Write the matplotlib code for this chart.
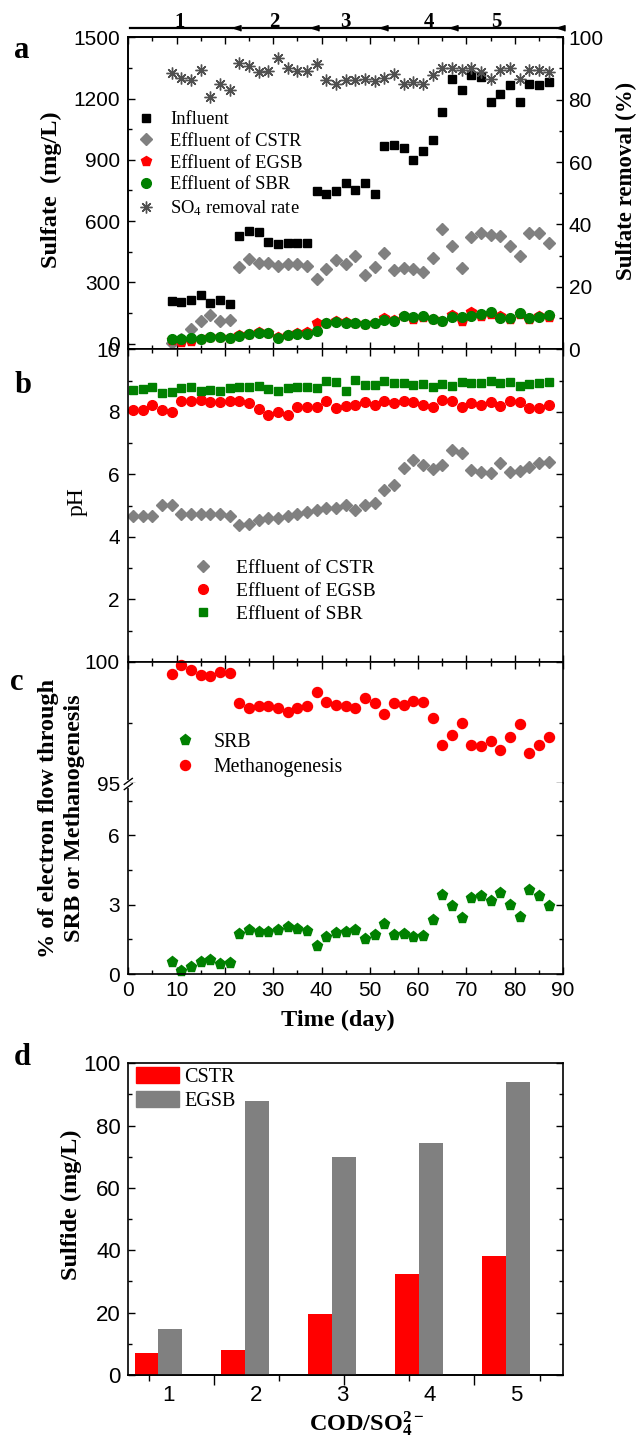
import matplotlib
matplotlib.use('Agg')
import matplotlib.pyplot as plt
from matplotlib.ticker import MultipleLocator, FixedLocator
from matplotlib.lines import Line2D
from matplotlib.patches import Patch

# ---------------- data ----------------
days_a = [9, 11, 13, 15, 17, 19, 21, 23, 25, 27, 29, 31, 33, 35, 37, 39, 41, 43, 45, 47,
          49, 51, 53, 55, 57, 59, 61, 63, 65, 67, 69, 71, 73, 75, 77, 79, 81, 83, 85, 87]
influent = [210, 205, 215, 240, 200, 215, 195, 525, 550, 548, 497, 486, 494, 494, 494,
            747, 735, 747, 787, 750, 787, 735, 966, 971, 958, 901, 942, 996,
            1134, 1297, 1240, 1315, 1305, 1183, 1222, 1268, 1183, 1272, 1268, 1279]
cstr_so4 = [5, 20, 70, 111, 138, 111, 116, 374, 412, 394, 394, 379, 391, 391, 379,
            317, 366, 407, 391, 428, 337, 374, 445, 358, 371, 363, 353, 419,
            559, 476, 370, 522, 541, 530, 525, 476, 428, 541, 541, 492]
egsb_so4 = [18, 10, 13, 21, 32, 32, 29, 41, 49, 57, 54, 32, 44, 54, 57, 99, 103, 111, 106, 99,
            98, 99, 124, 116, 137, 121, 129, 118, 113, 141, 113, 154, 134, 145, 134, 121,
            145, 121, 134, 129]
sbr_so4 = [24, 24, 26, 24, 34, 32, 29, 37, 45, 54, 50, 29, 44, 49, 49, 62, 99, 106, 103, 99,
           98, 99, 116, 111, 137, 129, 137, 118, 113, 129, 129, 137, 145, 157, 124, 124,
           150, 124, 129, 141]
removal = [88.7, 87.1, 86.2, 89.4, 80.8, 84.9, 83.0, 91.8, 90.8, 88.9, 89.2, 93.5, 90.2,
           89.2, 89.2, 91.4, 86.2, 84.9, 86.2, 86.2, 86.7, 86.0, 87.1, 88.1, 84.9, 85.6,
           84.9, 87.8, 90.0, 90.0, 89.4, 90.0, 88.9, 86.5, 89.4, 90.0, 86.7, 89.6, 89.6, 88.9]

days_ph = [1, 3, 5, 7, 9, 11, 13, 15, 17, 19, 21, 23, 25, 27, 29, 31, 33, 35, 37, 39, 41, 43,
           45, 47, 49, 51, 53, 55, 57, 59, 61, 63, 65, 67, 69, 71, 73, 75, 77, 79, 81, 83, 85, 87]
ph_cstr = [4.68, 4.68, 4.68, 5.02, 5.02, 4.73, 4.73, 4.73, 4.73, 4.73, 4.68, 4.38, 4.41, 4.54,
           4.61, 4.61, 4.68, 4.73, 4.80, 4.86, 4.91, 4.93, 5.02, 4.86, 5.02, 5.07, 5.50, 5.66,
           6.21, 6.45, 6.30, 6.16, 6.30, 6.77, 6.69, 6.14, 6.08, 6.05, 6.35, 6.08, 6.10, 6.24,
           6.37, 6.38]
ph_egsb = [8.05, 8.05, 8.21, 8.05, 8.00, 8.34, 8.34, 8.39, 8.30, 8.32, 8.34, 8.34, 8.29, 8.09,
           7.91, 7.98, 7.91, 8.14, 8.16, 8.16, 8.35, 8.11, 8.19, 8.23, 8.30, 8.21, 8.34, 8.27,
           8.34, 8.30, 8.21, 8.16, 8.39, 8.34, 8.16, 8.27, 8.21, 8.30, 8.18, 8.35, 8.30, 8.11,
           8.13, 8.21]
ph_sbr = [8.71, 8.72, 8.80, 8.59, 8.64, 8.75, 8.80, 8.67, 8.71, 8.67, 8.75, 8.80, 8.80, 8.83,
          8.72, 8.66, 8.75, 8.78, 8.80, 8.75, 8.98, 8.96, 8.67, 9.01, 8.85, 8.85, 8.98, 8.93,
          8.93, 8.85, 8.88, 8.78, 8.88, 8.83, 8.96, 8.91, 8.93, 8.98, 8.93, 8.96, 8.83, 8.88,
          8.93, 8.94]

srb_pct = [0.51, 0.13, 0.32, 0.51, 0.61, 0.42, 0.46, 1.72, 1.91, 1.81, 1.81, 1.91, 2.03, 1.94,
           1.84, 1.22, 1.62, 1.77, 1.81, 1.91, 1.52, 1.70, 2.16, 1.70, 1.74, 1.59, 1.65, 2.35,
           3.43, 2.93, 2.42, 3.29, 3.36, 3.14, 3.51, 3.00, 2.46, 3.62, 3.36, 2.93]
meth_pct = [99.50, 99.88, 99.67, 99.47, 99.40, 99.59, 99.54, 98.30, 98.09, 98.17, 98.17, 98.09,
            97.95, 98.09, 98.17, 98.77, 98.36, 98.23, 98.20, 98.09, 98.50, 98.30, 97.86, 98.30,
            98.23, 98.41, 98.34, 97.70, 96.59, 96.98, 97.48, 96.59, 96.53, 96.74, 96.39, 96.91,
            97.45, 96.25, 96.59, 96.91]

phase_names = ['1', '2', '3', '4', '5']
phase_label_day = [10.6, 30.2, 45.0, 62.2, 76.1]
phase_start = [0.35, 23.7, 39.7, 53.8, 68.1]
phase_end = [23.1, 39.3, 53.5, 68.0, 90.2]

ratio_labels = ['1', '2', '3', '4', '5']
sulfide_cstr = [7.0, 8.0, 19.6, 32.3, 38.2]
sulfide_egsb = [14.9, 88.0, 69.8, 74.3, 94.0]

# ---------------- style ----------------
plt.rcParams['font.family'] = ['Liberation Sans', 'DejaVu Sans']
plt.rcParams['mathtext.fontset'] = 'custom'
plt.rcParams['mathtext.rm'] = 'Liberation Serif'
plt.rcParams['mathtext.it'] = 'Liberation Serif:italic'
plt.rcParams['mathtext.bf'] = 'Liberation Serif:bold'

SERIF = 'Liberation Serif'
GRAY = '#808080'
RED = '#ff0000'
GREEN = '#008000'
STAR = '#505050'
W, H = 639, 1437
fig = plt.figure(figsize=(W / 100, H / 100), dpi=100)


def fx(px):
    return px / W


def fy(py):
    return 1 - py / H


def ax_px(l, t, r, b):
    return fig.add_axes([fx(l), fy(b), (r - l) / W, (b - t) / H])


def style(ax, size=15, **kw):
    ax.tick_params(which='both', direction='in', width=1, labelsize=size, **kw)
    ax.tick_params(which='major', length=5)
    ax.tick_params(which='minor', length=3)
    for s in ax.spines.values():
        s.set_linewidth(1.2)


def bold_label(ax, which, text, cx, cy, size=17, **kw):
    if which == 'y':
        ax.set_ylabel(text, fontfamily=SERIF, fontweight='bold', fontsize=size,
                      va='center', ha='center', **kw)
        ax.yaxis.set_label_coords(fx(cx), fy(cy), transform=fig.transFigure)
    else:
        ax.set_xlabel(text, fontfamily=SERIF, fontweight='bold', fontsize=size,
                      va='center', ha='center', **kw)
        ax.xaxis.set_label_coords(fx(cx), fy(cy), transform=fig.transFigure)


XL, XR = 128.3, 563.0

# ---------------- panel a ----------------
axa = ax_px(XL, 37.3, XR, 349.3)
style(axa, left=True, right=False, top=True, bottom=True, pad=6)
axa.set_xlim(0, 90)
axa.set_ylim(-28, 1500)
axa.xaxis.set_major_locator(MultipleLocator(10))
axa.xaxis.set_minor_locator(MultipleLocator(5))
axa.yaxis.set_major_locator(FixedLocator([0, 300, 600, 900, 1200, 1500]))
axa.yaxis.set_minor_locator(MultipleLocator(150))
axa.tick_params(labelbottom=False)
l_inf, = axa.plot(days_a, influent, ls='none', marker='s', ms=6.3, color='k', clip_on=False)
l_cs, = axa.plot(days_a, cstr_so4, ls='none', marker='D', ms=5.8, color=GRAY, mec=GRAY, clip_on=False)
l_eg, = axa.plot(days_a, egsb_so4, ls='none', marker='p', ms=7.5, color=RED, clip_on=False)
l_sb, = axa.plot(days_a, sbr_so4, ls='none', marker='o', ms=7, color=GREEN, clip_on=False)
bold_label(axa, 'y', 'Sulfate  (mg/L)', 51.7, 190, size=17.5)

ax2 = axa.twinx()
style(ax2, left=False, right=True, top=False, bottom=False, pad=4)
ax2.set_ylim(0, 100)
ax2.yaxis.set_major_locator(MultipleLocator(20))
ax2.yaxis.set_minor_locator(MultipleLocator(10))
l_rm, = ax2.plot(days_a, removal, ls='none', marker=(8, 2, 0), ms=8.5, mew=1.0,
                 color=STAR, mec=STAR)
ax2.set_ylabel('Sulfate removal (%)', fontfamily=SERIF, fontweight='bold', fontsize=16.5,
               va='center', ha='center')
ax2.yaxis.set_label_coords(fx(626), fy(181), transform=fig.transFigure)
ax2.legend([l_inf, l_cs, l_eg, l_sb, l_rm],
           ['Influent', 'Effluent of CSTR', 'Effluent of EGSB', 'Effluent of SBR',
            'SO$_4$ removal rate'],
           loc='upper left', bbox_to_anchor=(fx(136.3), fy(111.0)),
           bbox_transform=fig.transFigure, frameon=False, numpoints=1,
           prop={'family': SERIF, 'size': 13.3}, handlelength=1.0, handletextpad=0.85,
           labelspacing=0.26, borderpad=0, borderaxespad=0)

# phase indicator above panel a
tr = axa.get_xaxis_transform()
y_ph = 1 + (37.3 - 28.3) / (349.3 - 37.3)
y_txt = 1 + (37.3 - 26.6) / (349.3 - 37.3)
tri = [(-1, 0), (1, 0.62), (1, -0.62)]
for name, xl, x0, x1 in zip(phase_names, phase_label_day, phase_start, phase_end):
    axa.plot([x0, x1], [y_ph, y_ph], transform=tr, color='k', lw=1.6, clip_on=False)
    axa.plot([x1 - 0.85], [y_ph], transform=tr, marker=tri, ms=6.5, color='k', clip_on=False)
    axa.text(xl, y_txt, name, transform=tr, ha='center', va='baseline',
             fontfamily=SERIF, fontweight='bold', fontsize=15)

# ---------------- panel b ----------------
axb = ax_px(XL, 349.3, XR, 661.9)
style(axb, left=True, right=True, top=True, bottom=True, pad=6)
axb.set_xlim(0, 90)
axb.set_ylim(0, 10)
axb.xaxis.set_major_locator(MultipleLocator(10))
axb.xaxis.set_minor_locator(MultipleLocator(5))
axb.set_yticks([0, 2, 4, 6, 8, 10], ['', '2', '4', '6', '8', '10'])
axb.yaxis.set_minor_locator(MultipleLocator(1))
axb.tick_params(labelbottom=False)
p_cs, = axb.plot(days_ph, ph_cstr, ls='none', marker='D', ms=5.8, color=GRAY, mec=GRAY)
p_eg, = axb.plot(days_ph, ph_egsb, ls='none', marker='o', ms=7, color=RED)
p_sb, = axb.plot(days_ph, ph_sbr, ls='none', marker='s', ms=6.3, color=GREEN)
axb.set_ylabel('pH', fontfamily=SERIF, fontsize=17, va='center', ha='center')
axb.yaxis.set_label_coords(fx(77), fy(501.7), transform=fig.transFigure)
axb.legend([p_cs, p_eg, p_sb], ['Effluent of CSTR', 'Effluent of EGSB', 'Effluent of SBR'],
           loc='upper left', bbox_to_anchor=(fx(193.3), fy(559.3)),
           bbox_transform=fig.transFigure, frameon=False, numpoints=1,
           prop={'family': SERIF, 'size': 14}, handlelength=1.0, handletextpad=1.18,
           labelspacing=0.27, borderpad=0, borderaxespad=0)

# ---------------- panel c (broken axis) ----------------
axc_u = ax_px(XL, 661.9, XR, 783.3)
axc_l = ax_px(XL, 783.3, XR, 974.0)
style(axc_u, left=True, right=True, top=True, bottom=False, pad=6)
style(axc_l, left=True, right=True, top=False, bottom=True, pad=6)
axc_u.spines['bottom'].set_visible(False)
axc_l.spines['top'].set_visible(False)
for a in (axc_u, axc_l):
    a.set_xlim(0, 90)
    a.xaxis.set_major_locator(MultipleLocator(10))
    a.xaxis.set_minor_locator(MultipleLocator(5))
axc_u.tick_params(labelbottom=False)
axc_u.set_ylim(95, 100)
axc_u.yaxis.set_major_locator(FixedLocator([95, 100]))
axc_u.yaxis.set_minor_locator(FixedLocator([97.5]))
axc_l.set_ylim(0, 8.25)
axc_l.yaxis.set_major_locator(FixedLocator([0, 3, 6]))
axc_l.yaxis.set_minor_locator(FixedLocator([1.5, 4.5, 7.5]))
axc_l.tick_params(axis='x', pad=5)
c_srb, = axc_l.plot(days_a, srb_pct, ls='none', marker='p', ms=8, color=GREEN, clip_on=False)
c_met, = axc_u.plot(days_a, meth_pct, ls='none', marker='o', ms=7.2, color=RED, clip_on=False)
axc_u.legend([c_srb, c_met], ['SRB', 'Methanogenesis'],
             loc='upper left', bbox_to_anchor=(fx(175.0), fy(733.3)),
             bbox_transform=fig.transFigure, frameon=False, numpoints=1,
             prop={'family': SERIF, 'size': 14.3}, handlelength=1.0, handletextpad=0.92,
             labelspacing=0.27, borderpad=0, borderaxespad=0)
bold_label(axc_l, 'y', '% of electron flow through\nSRB or Methanogenesis', 61.7, 818,
           size=17.5, linespacing=1.3)
bold_label(axc_l, 'x', 'Time (day)', 338, 1020, size=17.5)

# break marks on the left spine
yb = 784.0
fig.add_artist(Line2D([fx(XL), fx(XL)], [fy(yb - 2.2), fy(yb + 2.2)], color='white', lw=3,
                      transform=fig.transFigure))
for dy in (-2.6, 2.6):
    fig.add_artist(Line2D([fx(XL - 4), fx(XL + 4)], [fy(yb + dy + 3), fy(yb + dy - 3)],
                          color='k', lw=1, transform=fig.transFigure))

# ---------------- panel d ----------------
axd = ax_px(127.7, 1063.3, 562.5, 1375.0)
style(axd, size=16, left=True, right=True, top=False, bottom=False, pad=5)
pos = [1, 2, 3, 4, 5]
bw = 0.273
axd.bar([p - bw / 2 for p in pos], sulfide_cstr, width=bw, color=RED, label='CSTR')
axd.bar([p + bw / 2 for p in pos], sulfide_egsb, width=bw, color=GRAY, label='EGSB')
axd.set_xlim(0.648, 5.651)
axd.set_ylim(0, 100)
axd.yaxis.set_major_locator(MultipleLocator(20))
axd.yaxis.set_minor_locator(MultipleLocator(10))
axd.set_xticks([p + 0.12 for p in pos], ratio_labels)
axd.tick_params(axis='x', which='major', bottom=True, length=0, pad=7, labelsize=16)
sec = axd.secondary_xaxis('bottom')
sec.set_xticks([1.644, 3.140, 4.636], ['', '', ''])
sec.xaxis.set_minor_locator(FixedLocator([0.896, 2.392, 3.888, 5.392]))
sec.tick_params(which='major', direction='out', length=7, width=1)
sec.tick_params(which='minor', direction='out', length=4, width=1)
sec.spines['bottom'].set_linewidth(1.2)
axd.legend(handles=[Patch(color=RED), Patch(color=GRAY)], labels=['CSTR', 'EGSB'],
           loc='upper left', bbox_to_anchor=(fx(136), fy(1067)),
           bbox_transform=fig.transFigure, frameon=False,
           prop={'family': SERIF, 'size': 14.5}, handlelength=2.14, handleheight=0.85,
           handletextpad=0.25, labelspacing=0.22, borderpad=0, borderaxespad=0)
bold_label(axd, 'y', 'Sulfide (mg/L)', 71, 1205, size=17.5)
bold_label(axd, 'x', 'COD/SO$_\\mathbf{4}^\\mathbf{2-}$', 366, 1424, size=17.5)

# ---------------- panel letters ----------------
for letter, x, y in [('a', 22, 58), ('b', 23, 393), ('c', 17, 690), ('d', 22, 1065)]:
    fig.text(fx(x), fy(y), letter, ha='center', va='baseline', fontfamily=SERIF,
             fontweight='bold', fontsize=22)

fig.savefig('out.png', dpi=100)
